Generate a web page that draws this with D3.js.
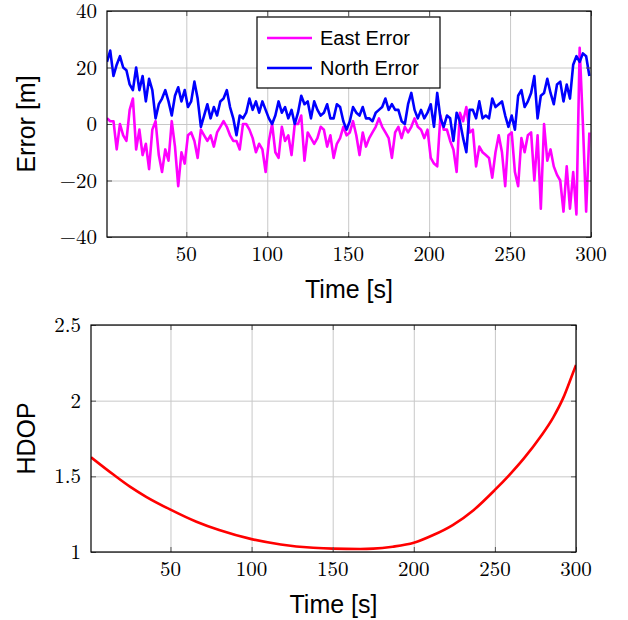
<!DOCTYPE html>
<html>
<head>
<meta charset="utf-8">
<script src="https://cdn.jsdelivr.net/npm/d3@7"></script>
<style>
  body { margin: 0; background: #fff; }
  .axis-title { font-family: "Liberation Sans", Arial, sans-serif; font-size: 25px; fill: #000; }
  .legend text { font-family: "Liberation Sans", Arial, sans-serif; font-size: 20px; fill: #000; }
  .grid line { stroke: #c8c8c8; stroke-width: 1; }
  .marks line { stroke: #555; stroke-width: 1; }
  .series { fill: none; stroke-linejoin: round; }
</style>
</head>
<body>
<div id="chart"></div>
<script>
"use strict";

// Samples every 2 s
const time = d3.range(1, 300, 2);

const eastError = [
    2, 1, 1, -9, 0, -4, -6, 5, 9, -9, -2, -11, -7, -16, -2, 1, -11, -17, -9, -13, 1, -8, -22, -10, -14, -4,
    -3, -6, -12, -2, -4, -6, -4, -8, -3, -1, 1, -1, -4, -6, -6, -9, 0, 0, -2, -5, -10, -7, -9, -17, -6,
    0, -10, -12, -1, -6, -4, -11, 0, 0, 3, -13, -3, -5, -7, -5, -1, -2, -8, -4, -12, -7, -5, -1, -4,
    -3, 1, -4, -11, -3, -8, -5, -3, -1, 2, -1, -3, -5, -12, -3, -1, -5, -1, -3, -1, 2, -1, -2, -5, -2,
    -12, -14, -15, 3, -2, -2, -6, -9, -17, 4, 1, 6, -3, -2, -15, -8, -10, -11, -12, -19, -10, -4, -10, -22, -4,
    -3, -17, -22, -5, -10, -4, -3, -20, -4, -30, 0, -13, -9, -15, -18, -20, -31, -15, -30, -17, -32, 27, 0, -31, -3
];

const northError = [
    22, 26, 17, 21, 24, 20, 19, 14, 12, 20, 12, 17, 8, 16, 12, 2, 7, 9, 12, 8, 3, 10, 13, 8, 12, 6,
    8, 15, 9, -1, 3, 7, 2, 6, 3, 8, 9, 12, 6, 2, -4, 3, 2, 4, 9, 5, 8, 4, 8, 5, 2,
    0, 3, 8, 4, 6, 2, 5, 0, 4, 10, 7, 8, 2, 8, 5, 3, 4, 7, 2, 2, 7, 6, 1, -2,
    1, 6, 4, 3, 6, 2, 2, 1, 4, 5, 6, 9, 5, 7, 5, 5, 1, 0, 7, 11, 5, 2, 5, 2, 4,
    7, -1, 11, 2, -1, 3, 2, -6, 4, 1, -5, -10, 5, 5, 2, 8, 2, 3, 2, 9, 6, 7, 8, 3, -1,
    3, -2, 10, 12, 6, 8, 11, 17, 2, 10, 11, 16, 11, 7, 14, 15, 8, 14, 9, 21, 24, 22, 25, 24, 17
];

const hdopTime = [1, 15, 25, 35, 50, 66, 80, 100, 118, 138, 150, 167, 175, 187, 200,
                  212, 224, 237, 250, 259, 268, 278, 286, 292, 298, 300];
const hdopValue = [1.626, 1.51, 1.432, 1.365, 1.28, 1.2, 1.145, 1.085, 1.05, 1.028, 1.022, 1.02, 1.022, 1.035, 1.061,
                   1.112, 1.178, 1.278, 1.41, 1.51, 1.62, 1.76, 1.89, 2.015, 2.18, 2.236];

const timeTicks = [50, 100, 150, 200, 250, 300];
const errorTicks = [-40, -20, 0, 20, 40];
const hdopTicks = [1, 1.5, 2, 2.5];
const legendLabels = ["East Error", "North Error"];
const seriesColors = ["#ff00ff", "#0000ff"];

const TICK_FONT = "'Latin Modern Roman'";


/*
 * ============================================================================
 * Panel
 * ============================================================================
 */

function Panel(svg, box, ydomain, yticks, id) {
    this.width = box.width;
    this.height = box.height;

    this.g = svg
      .append("g")
        .attr("transform", `translate(${box.left},${box.top})`);

    this.xscale = d3.scaleLinear()
        .domain([1, 300])
        .range([0, box.width]);

    this.yscale = d3.scaleLinear()
        .domain(ydomain)
        .range([box.height, 0]);

    const W = box.width, H = box.height;

    // Grid
    this.g.append("g")
        .attr("class", "grid")
        .attr("transform", `translate(0,${H})`)
        .call(d3.axisBottom(this.xscale).tickValues(timeTicks).tickSize(-H).tickFormat(""))
        .call(g => g.select(".domain").remove());
    this.g.append("g")
        .attr("class", "grid")
        .call(d3.axisLeft(this.yscale).tickValues(yticks).tickSize(-W).tickFormat(""))
        .call(g => g.select(".domain").remove());

    // Clip for the data
    this.g.append("clipPath")
        .attr("id", id)
      .append("rect")
        .attr("width", W)
        .attr("height", H);
    this.data = this.g.append("g").attr("clip-path", `url(#${id})`);

    // Inner tick marks on every side
    this.marks = this.g.append("g").attr("class", "marks");
    this.marks.append("g")
        .attr("transform", `translate(0,${H})`)
        .call(d3.axisBottom(this.xscale).tickValues(timeTicks).tickSize(-5).tickFormat(""));
    this.marks.append("g")
        .call(d3.axisTop(this.xscale).tickValues(timeTicks).tickSize(-5).tickFormat(""));
    this.marks.append("g")
        .call(d3.axisLeft(this.yscale).tickValues(yticks).tickSize(-5).tickFormat(""));
    this.marks.append("g")
        .attr("transform", `translate(${W},0)`)
        .call(d3.axisRight(this.yscale).tickValues(yticks).tickSize(-5).tickFormat(""));
    this.marks.selectAll(".domain").remove();

    // Tick labels (plain text so the serif font sticks)
    const fmt = d3.format("~g");
    this.g.append("g")
        .selectAll("text")
        .data(timeTicks)
        .join("text")
        .attr("x", d => this.xscale(d))
        .attr("y", H + 24)
        .attr("text-anchor", "middle")
        .style("font-family", TICK_FONT)
        .style("font-size", "21px")
        .style("fill", "#000")
        .text(fmt);
    this.g.append("g")
        .selectAll("text")
        .data(yticks)
        .join("text")
        .attr("x", -10)
        .attr("y", d => this.yscale(d) + 7)
        .attr("text-anchor", "end")
        .style("font-family", TICK_FONT)
        .style("font-size", "21px")
        .style("fill", "#000")
        .text(fmt);
}

Panel.prototype.frame = function() {
    this.g.append("rect")
        .attr("width", this.width)
        .attr("height", this.height)
        .attr("fill", "none")
        .attr("stroke", "#000")
        .attr("stroke-width", 1.2);
}

Panel.prototype.titles = function(xtitle, ytitle, ycenter) {
    this.g.append("text")
        .attr("class", "axis-title")
        .attr("x", this.width / 2)
        .attr("y", this.height + 61)
        .attr("text-anchor", "middle")
        .text(xtitle);
    this.g.append("text")
        .attr("class", "axis-title")
        .attr("transform", `translate(${ycenter},${this.height / 2}) rotate(-90)`)
        .attr("text-anchor", "middle")
        .text(ytitle);
}

Panel.prototype.line = function(xs, ys, color, width, curve) {
    const line = d3.line()
        .x(d => this.xscale(d[0]))
        .y(d => this.yscale(d[1]))
        .curve(curve || d3.curveLinear);
    this.data.append("path")
        .datum(d3.zip(xs, ys))
        .attr("class", "series")
        .attr("stroke", color)
        .attr("stroke-width", width)
        .attr("d", line);
}


/*
 * ============================================================================
 * Orchestration
 * ============================================================================
 */

const svg = d3.select("#chart")
  .append("svg")
    .attr("width", 628)
    .attr("height", 620);

svg.append("rect").attr("width", 628).attr("height", 620).attr("fill", "#fff");

// Error panel
const errorPanel = new Panel(svg, { left: 107, top: 11, width: 484, height: 226 }, [-40, 40], errorTicks, "clip-top");
errorPanel.line(time, eastError, seriesColors[0], 2.6);
errorPanel.line(time, northError, seriesColors[1], 2.6);
errorPanel.frame();
errorPanel.titles("Time [s]", "Error [m]", -72);

// Legend
const legend = errorPanel.g.append("g")
    .attr("class", "legend")
    .attr("transform", "translate(150,6)");
legend.append("rect")
    .attr("width", 183)
    .attr("height", 71)
    .attr("fill", "#fff")
    .attr("stroke", "#000")
    .attr("stroke-width", 1.2);
legendLabels.forEach((label, i) => {
    const y = 21 + i * 30;
    legend.append("line")
        .attr("x1", 10).attr("x2", 55)
        .attr("y1", y).attr("y2", y)
        .attr("stroke", seriesColors[i])
        .attr("stroke-width", 2.6);
    legend.append("text")
        .attr("x", 63)
        .attr("y", y + 7)
        .text(label);
});

// HDOP panel
const hdopPanel = new Panel(svg, { left: 91, top: 325, width: 485, height: 227 }, [1, 2.5], hdopTicks, "clip-bottom");
hdopPanel.line(hdopTime, hdopValue, "#ff0000", 2.6, d3.curveMonotoneX);
hdopPanel.frame();
hdopPanel.titles("Time [s]", "HDOP", -56);
</script>
</body>
</html>
